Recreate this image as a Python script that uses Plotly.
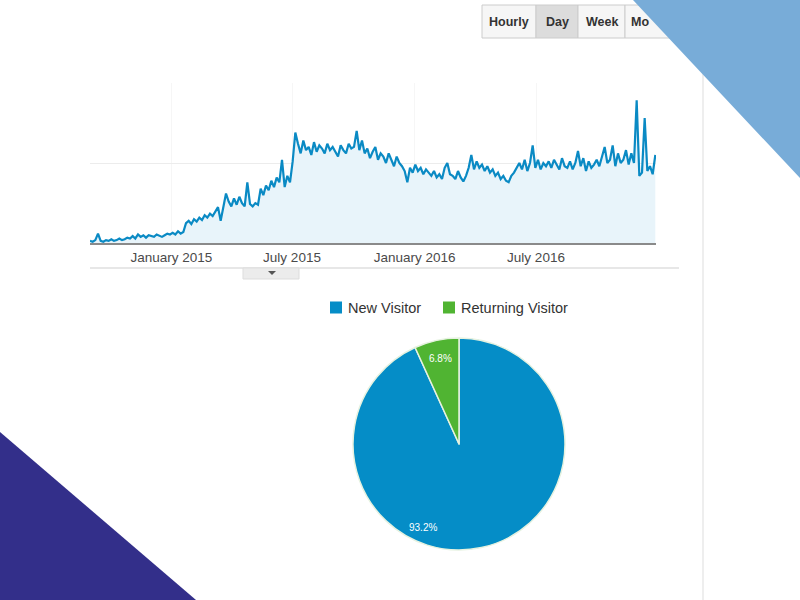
import pandas as pd
import plotly.graph_objects as go

# ---------------- data ----------------
start_date = "2014-09-01"
step_days = 4
sessions = [
    15, 10, 20, 60, 15, 10, 20, 15, 25, 15, 20, 30, 20, 25, 35, 30,
    45, 30, 55, 40, 50, 35, 50, 45, 40, 55, 45, 40, 50, 60, 55,
    65, 55, 75, 60, 70,
    125, 140, 120, 150, 135, 160, 145, 175, 160, 185, 170,
    200, 225, 140, 235,
    310,
    260, 230, 280, 240, 290, 250, 230, 380, 245, 230, 250,
    240, 340, 300, 360, 330, 390, 350, 410,
    380, 520,
    350, 420, 380, 510,
    690,
    620, 560, 640, 580, 600, 550, 630, 570, 610, 590, 560, 620, 580, 600, 570, 540,
    610, 580, 560, 620, 590, 600, 700,
    580, 640, 560, 590, 530, 570, 600, 520, 560, 540, 500, 560, 520, 480, 540, 500,
    480, 450, 380, 470, 440, 490, 450, 470, 430, 460, 440, 420, 450, 410, 430, 400,
    470, 500, 430, 420, 400, 450, 410, 385, 420, 470,
    550,
    460, 510, 470, 490, 450, 480, 440, 460, 420, 440, 400, 420, 390, 380, 420,
    440, 470, 500, 460, 520, 450, 500, 610, 470, 520, 460, 500, 480, 510, 470,
    520, 490, 460, 530, 480, 470, 510, 460, 500, 575, 480, 530, 450, 510, 470,
    490, 520, 480, 540, 600, 500, 520, 610, 480, 560, 500, 520, 580, 490, 560,
    500, 890, 420, 440, 780, 450, 480, 430, 550,
]
dates = pd.date_range(start_date, periods=len(sessions), freq=f"{step_days}D")

tick_dates = ["2015-01-01", "2015-07-01", "2016-01-01", "2016-07-01"]
tick_labels = ["January 2015", "July 2015", "January 2016", "July 2016"]

visitor_types = ["New Visitor", "Returning Visitor"]
visitor_share = [93.2, 6.8]
visitor_colors = ["#058dc7", "#50b432"]

buttons = ["Hourly", "Day", "Week", "Mo"]

# ---------------- helpers (pixel -> paper) ----------------
W, H = 800, 600
def px(x):
    return x / W
def py(y):
    return 1 - y / H
def path(points):
    return "M " + " L ".join(f"{px(x):.5f},{py(y):.5f}" for x, y in points) + " Z"

FONT = "Arial, Liberation Sans, sans-serif"

fig = go.Figure()

# line/area chart
fig.add_trace(go.Scatter(
    x=dates, y=sessions, mode="lines",
    line=dict(color="#0a8ac4", width=2.2),
    fill="tozeroy", fillcolor="#e8f4fa",
    showlegend=False, hoverinfo="skip",
    xaxis="x", yaxis="y",
))

# pie chart (small slice labelled by plotly, big slice label placed near the bottom like GA)
fig.add_trace(go.Pie(
    labels=visitor_types, values=visitor_share,
    marker=dict(colors=visitor_colors, line=dict(color="#e6f2e0", width=1.5)),
    sort=False, direction="clockwise", rotation=0,
    texttemplate=["", "%{value:.1f}%"], textposition="inside",
    insidetextorientation="horizontal",
    textfont=dict(color="white", size=10, family=FONT),
    domain=dict(x=[px(353), px(565)], y=[py(550), py(338)]),
    showlegend=False, hoverinfo="skip",
))

shapes = []
annotations = []

# horizontal separator under chart
shapes.append(dict(type="line", xref="paper", yref="paper",
                   x0=px(90), x1=px(679), y0=py(268), y1=py(268),
                   line=dict(color="#cfcfcf", width=1), layer="below"))
# small toggle tab
shapes.append(dict(type="rect", xref="paper", yref="paper",
                   x0=px(243), x1=px(299), y0=py(279), y1=py(268),
                   fillcolor="#ececec", line=dict(color="#dddddd", width=1), layer="below"))
shapes.append(dict(type="path", xref="paper", yref="paper",
                   path=path([(268, 271), (276, 271), (272, 275)]),
                   fillcolor="#555555", line=dict(width=0)))
# right panel border
shapes.append(dict(type="line", xref="paper", yref="paper",
                   x0=px(703), x1=px(703), y0=0, y1=1,
                   line=dict(color="#eeeeee", width=2), layer="below"))

# buttons
btn_edges = [482, 536, 578, 625, 680]
for i, label in enumerate(buttons):
    x0, x1 = btn_edges[i], btn_edges[i + 1]
    shapes.append(dict(type="rect", xref="paper", yref="paper",
                       x0=px(x0), x1=px(x1), y0=py(38), y1=py(5),
                       fillcolor="#dcdcdc" if label == "Day" else "#f6f6f6",
                       line=dict(color="#cccccc", width=1)))
    cx = (x0 + x1) / 2 if label != "Mo" else 640
    annotations.append(dict(xref="paper", yref="paper", x=px(cx), y=py(21.5),
                            text=f"<b>{label}</b>", showarrow=False,
                            font=dict(family=FONT, size=12.5, color="#333333"),
                            xanchor="center", yanchor="middle"))

# pie legend (GA style)
legend_x = [330, 443]
for lx, name, col in zip(legend_x, visitor_types, visitor_colors):
    shapes.append(dict(type="rect", xref="paper", yref="paper",
                       x0=px(lx), x1=px(lx + 12), y0=py(313.5), y1=py(301.5),
                       fillcolor=col, line=dict(width=0)))
    annotations.append(dict(xref="paper", yref="paper", x=px(lx + 16), y=py(307.5),
                            text=name, showarrow=False,
                            font=dict(family=FONT, size=14.5, color="#333333"),
                            xanchor="left", yanchor="middle"))

# label of the large slice
annotations.append(dict(xref="paper", yref="paper", x=px(423), y=py(527),
                        text=f"{visitor_share[0]:.1f}%", showarrow=False,
                        font=dict(family=FONT, size=10, color="white"),
                        xanchor="center", yanchor="middle"))

# decorative triangles
shapes.append(dict(type="path", xref="paper", yref="paper",
                   path=path([(633, 0), (800, 0), (800, 178)]),
                   fillcolor="#78acd8", line=dict(width=0), layer="above"))
shapes.append(dict(type="path", xref="paper", yref="paper",
                   path=path([(0, 432), (0, 600), (196, 600)]),
                   fillcolor="#332f8a", line=dict(width=0), layer="above"))

fig.update_layout(
    width=W, height=H,
    margin=dict(l=0, r=0, t=0, b=0),
    paper_bgcolor="white", plot_bgcolor="white",
    font=dict(family=FONT, color="#444444"),
    showlegend=False,
    xaxis=dict(
        domain=[px(90), px(656)],
        anchor="y",
        type="date",
        range=["2014-09-01", "2016-12-28"],
        tickvals=tick_dates, ticktext=tick_labels,
        tickfont=dict(size=13.5, color="#4a4a4a", family=FONT),
        ticks="", showgrid=True, gridcolor="#f6f6f6", gridwidth=1,
        showline=True, linecolor="#8a8a8a", linewidth=2,
        zeroline=False, fixedrange=True,
    ),
    yaxis=dict(
        domain=[py(243.3), py(82.7)],
        anchor="x",
        range=[0, 1000], dtick=500,
        showticklabels=False, ticks="",
        showgrid=True, gridcolor="#ececec", gridwidth=1,
        zeroline=False, showline=False, fixedrange=True,
    ),
    shapes=shapes,
    annotations=annotations,
)

fig.write_html("out.html")
